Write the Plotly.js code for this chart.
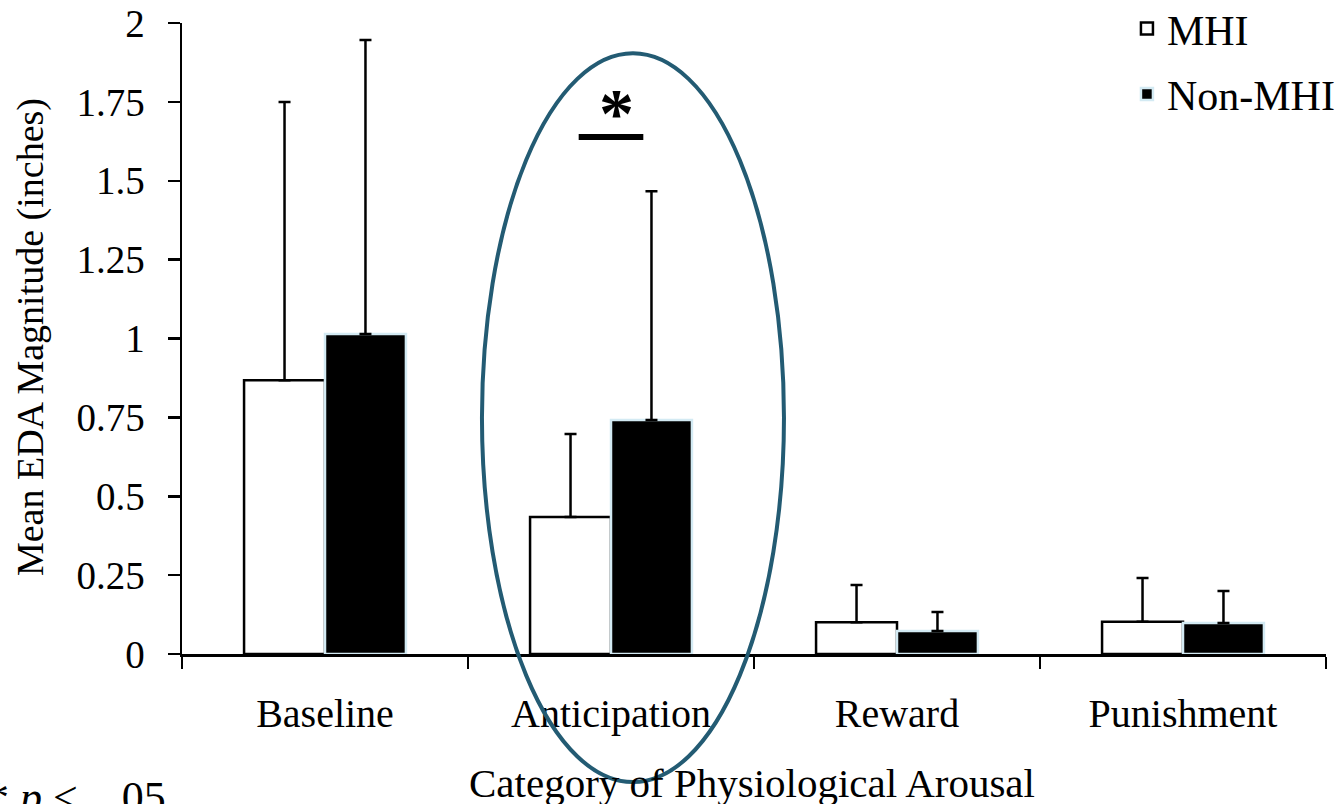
<!DOCTYPE html>
<html>
<head>
<meta charset="utf-8">
<script src="https://cdn.plot.ly/plotly-3.0.1.min.js"></script>
<style>html,body{margin:0;padding:0;background:#fff;}#chart{width:1336px;height:804px;}</style>
</head>
<body>
<div id="chart"></div>
<script>
const categories = ["Baseline", "Anticipation", "Reward", "Punishment"];
const mhiMeans = [0.868, 0.434, 0.101, 0.102];
const mhiErr = [0.882, 0.263, 0.118, 0.139];
const nonMhiMeans = [1.014, 0.742, 0.073, 0.098];
const nonMhiErr = [0.932, 0.725, 0.060, 0.102];
const yTickVals = [0, 0.25, 0.5, 0.75, 1, 1.25, 1.5, 1.75, 2];
const yTickText = ["0", "0.25", "0.5", "0.75", "1", "1.25", "1.5", "1.75", "2"];

const FONT = "Liberation Serif, Times New Roman, serif";

const traces = [
  {
    type: "bar", name: "MHI", x: categories, y: mhiMeans, legendgroup: "a",
    marker: {color: "#ffffff", line: {color: "#000000", width: 2.5}},
    error_y: {type: "data", symmetric: false, array: mhiErr, arrayminus: mhiMeans.map(() => 0),
              color: "#000000", thickness: 2.5, width: 6}
  },
  {
    type: "bar", name: "Non-MHI", x: categories, y: nonMhiMeans, legendgroup: "b",
    marker: {color: "#000000", line: {color: "#d3eaf3", width: 2.5}},
    error_y: {type: "data", symmetric: false, array: nonMhiErr, arrayminus: nonMhiMeans.map(() => 0),
              color: "#000000", thickness: 2.5, width: 6}
  }
];

const layout = {
  width: 1336, height: 804,
  margin: {l: 182, r: 10, t: 23, b: 150, autoexpand: false},
  paper_bgcolor: "#ffffff", plot_bgcolor: "#ffffff",
  font: {family: FONT, size: 40, color: "#000000"},
  barmode: "group", bargap: 0.434, bargroupgap: 0,
  showlegend: true,
  legend: {
    x: 0.826, y: 1.045, xanchor: "left", yanchor: "top",
    font: {family: FONT, size: 42, color: "#000000"},
    traceorder: "grouped", tracegroupgap: 8,
    bgcolor: "rgba(0,0,0,0)", itemwidth: 30
  },
  xaxis: {
    type: "category", range: [-0.5, 3.5],
    showline: true, linecolor: "#000000", linewidth: 2.5,
    ticks: "outside", tickson: "boundaries", ticklen: 12, tickwidth: 2.5, tickcolor: "#000000",
    ticklabelstandoff: 22,
    showgrid: false, zeroline: false,
    tickfont: {family: FONT, size: 40, color: "#000000"}
  },
  yaxis: {
    range: [0, 2], tickvals: yTickVals, ticktext: yTickText,
    showline: true, linecolor: "#000000", linewidth: 2.5,
    ticks: "outside", ticklen: 12, tickwidth: 2.5, tickcolor: "#000000",
    ticklabelstandoff: 15,
    showgrid: false, zeroline: false,
    tickfont: {family: FONT, size: 39, color: "#000000"}
  },
  shapes: [
    {type: "line", xref: "x", yref: "y", x0: 0.887, x1: 1.113, y0: 1.639, y1: 1.639,
     line: {color: "#000000", width: 6}},
    {type: "circle", xref: "paper", yref: "paper", x0: 0.2622, x1: 0.5262, y0: -0.203, y1: 0.952,
     line: {color: "#235b73", width: 4}, fillcolor: "rgba(0,0,0,0)"}
  ],
  annotations: [
    {text: "<b>*</b>", xref: "x", yref: "y", x: 1.02, y: 1.712, showarrow: false,
     font: {family: FONT, size: 70, color: "#000000"}, yanchor: "middle"},
    {text: "Mean EDA Magnitude (inches)", xref: "paper", yref: "paper", x: -0.133, y: 0.502,
     textangle: -90, showarrow: false, xanchor: "center", yanchor: "middle",
     font: {family: FONT, size: 38, color: "#000000"}},
    {text: "Category of Physiological Arousal", xref: "paper", yref: "paper", x: 0.4983, y: -0.205,
     showarrow: false, xanchor: "center", yanchor: "middle",
     font: {family: FONT, size: 41, color: "#000000"}},
    {text: "*\u00a0<i>p</i>\u00a0<\u00a0\u00a0\u00a0.05", xref: "paper", yref: "paper", x: -0.172, y: -0.227,
     showarrow: false, xanchor: "left", yanchor: "middle",
     font: {family: FONT, size: 44, color: "#000000"}}
  ]
};

Plotly.newPlot("chart", traces, layout, {displayModeBar: false, staticPlot: true});
</script>
</body>
</html>
